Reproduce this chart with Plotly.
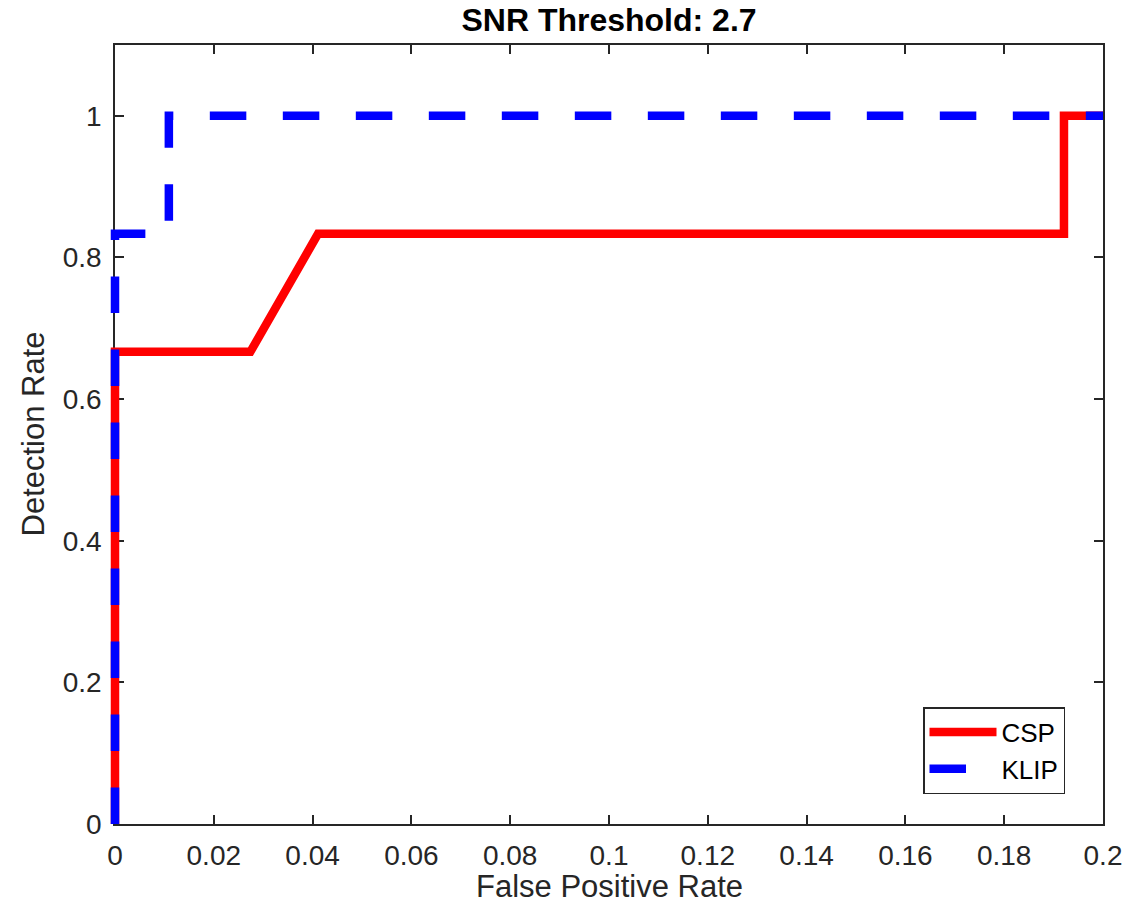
import plotly.graph_objects as go

# ROC curves at an SNR threshold of 2.7
csp_fpr = [0.0, 0.0, 0.0274, 0.0411, 0.1921, 0.1921, 0.2]
csp_det = [0.0, 0.6667, 0.6667, 0.8333, 0.8333, 1.0, 1.0]

klip_fpr = [0.0, 0.0, 0.0109, 0.0109, 0.2]
klip_det = [0.0, 0.8333, 0.8333, 1.0, 1.0]

x_ticks = [0, 0.02, 0.04, 0.06, 0.08, 0.1, 0.12, 0.14, 0.16, 0.18, 0.2]
x_labels = ["0", "0.02", "0.04", "0.06", "0.08", "0.1", "0.12", "0.14", "0.16", "0.18", "0.2"]
y_ticks = [0, 0.2, 0.4, 0.6, 0.8, 1.0]
y_labels = ["0", "0.2", "0.4", "0.6", "0.8", "1"]

X_RANGE = [0, 0.2]
Y_RANGE = [0, 1.1]

FONT = "Liberation Sans, Arial, Helvetica, sans-serif"
AXIS_GRAY = "#262626"

W, H = 1127, 915
M_L, M_R, M_T, M_B = 105, 24, 45, 91
PAD = 10  # extra room left of x=0 so the thick lines at the edge are not cut
plot_w = W - M_L - M_R
plot_h = H - M_T - M_B
axis_w = plot_w - PAD
x0_frac = PAD / plot_w
x_pad = PAD * (X_RANGE[1] - X_RANGE[0]) / axis_w
axis_center_px = M_L + PAD + axis_w / 2


def paper_x(px):
    return (px - M_L) / plot_w


def paper_y(py):
    return (H - M_B - py) / plot_h


fig = go.Figure()
# invisible trace so the framed axes (x, y) get built
fig.add_trace(go.Scatter(
    x=csp_fpr, y=csp_det, mode="none", showlegend=False, hoverinfo="skip",
    xaxis="x", yaxis="y",
))
# the curves live on a hidden subplot that shares the visible scale
fig.add_trace(go.Scatter(
    x=csp_fpr, y=csp_det, mode="lines", name="CSP", xaxis="x2", yaxis="y2",
    line=dict(color="#ff0000", width=8.5),
))
fig.add_trace(go.Scatter(
    x=klip_fpr, y=klip_det, mode="lines", name="KLIP", xaxis="x2", yaxis="y2",
    line=dict(color="#0000ff", width=8.5, dash="36.5px,36.5px"),
))

axis_common = dict(
    showline=True, linecolor=AXIS_GRAY, linewidth=1.5, mirror="ticks",
    ticks="inside", ticklen=9, tickwidth=1.5, tickcolor=AXIS_GRAY,
    showgrid=False, zeroline=False, layer="below traces", automargin=False,
    tickfont=dict(family=FONT, size=28, color=AXIS_GRAY),
)

fig.update_layout(
    xaxis=dict(
        domain=[x0_frac, 1], range=X_RANGE, tickvals=x_ticks, ticktext=x_labels,
        ticklabelstandoff=6, anchor="y",
        **axis_common,
    ),
    yaxis=dict(
        domain=[0, 1], range=Y_RANGE, tickvals=y_ticks, ticktext=y_labels,
        ticklabelstandoff=6, anchor="x",
        **axis_common,
    ),
    xaxis2=dict(
        domain=[0, 1], range=[X_RANGE[0] - x_pad, X_RANGE[1]], anchor="y2",
        visible=False, showgrid=False, zeroline=False,
    ),
    yaxis2=dict(
        domain=[0, 1], range=Y_RANGE, anchor="x2",
        visible=False, showgrid=False, zeroline=False,
    ),
)

# axis titles
label_font = dict(family=FONT, size=31, color=AXIS_GRAY)
fig.add_annotation(
    text="False Positive Rate", xref="paper", yref="paper",
    x=paper_x(axis_center_px), y=paper_y(886), xanchor="center", yanchor="middle",
    showarrow=False, font=label_font,
)
fig.add_annotation(
    text="Detection Rate", xref="paper", yref="paper", textangle=-90,
    x=paper_x(33), y=paper_y((M_T + H - M_B) / 2), xanchor="center", yanchor="middle",
    showarrow=False, font=label_font,
)

leg_right_px = 1065
leg_bottom_px = 794
fig.update_layout(
    width=W, height=H,
    margin=dict(l=M_L, r=M_R, t=M_T, b=M_B),
    paper_bgcolor="white", plot_bgcolor="rgba(0,0,0,0)",
    title=dict(
        text="<b>SNR Threshold: 2.7</b>", x=axis_center_px / W, xanchor="center",
        xref="container", yref="container", y=(H - 20) / H, yanchor="middle",
        font=dict(family=FONT, size=32, color="#000000"),
    ),
    showlegend=True,
    legend=dict(
        x=paper_x(leg_right_px), xanchor="right",
        y=paper_y(leg_bottom_px), yanchor="bottom",
        bgcolor="white", bordercolor=AXIS_GRAY, borderwidth=1.5,
        font=dict(family=FONT, size=26, color="#000000"),
        itemwidth=67,
    ),
)

fig.write_html("out.html")
